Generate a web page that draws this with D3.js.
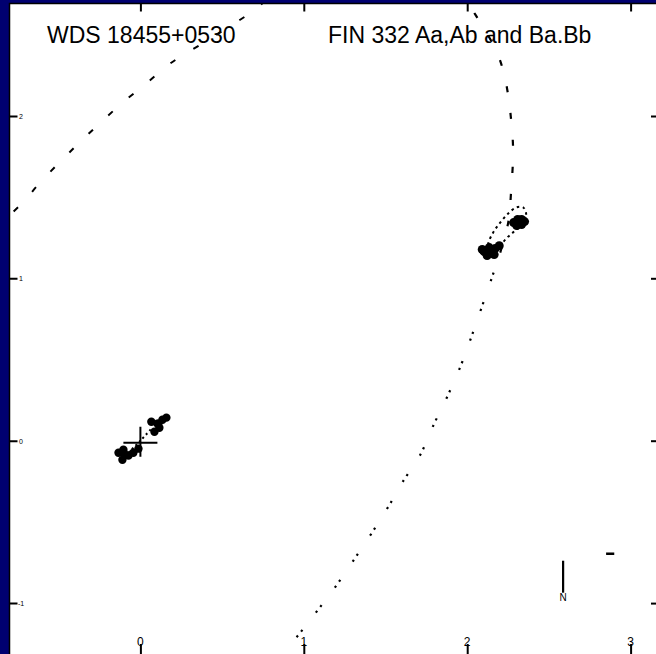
<!DOCTYPE html>
<html><head><meta charset="utf-8">
<script src="https://cdn.jsdelivr.net/npm/d3@7"></script>
<style>html,body{margin:0;padding:0;background:#000070;}svg{display:block;}</style>
</head><body>
<script>
// ---- data (arcsec-like units) ----
const xTicks = [0, 1, 2, 3];
const yTicks = [-1, 0, 1, 2];
const xTickLabels = ["0", "1", "2", "3"];
const yTickLabels = ["-1", "0", "1", "2"];
const titleLeft = "WDS 18455+0530";
const titleRight = "FIN 332 Aa,Ab and Ba.Bb";

// outer orbit (A-B), dotted part
const orbitDotted = [[0.844,-1.368],[0.887,-1.300],[0.997,-1.158],[1.101,-1.023],[1.211,-0.875],[1.315,-0.721],[1.413,-0.573],[1.517,-0.407],[1.602,-0.259],[1.713,-0.086],[1.798,0.105],[1.878,0.271],[1.963,0.468],[2.024,0.635],[2.086,0.813],[2.153,1.010],[2.202,1.158]];
// outer orbit, dashed part (right)
const orbitDashed = [[2.202,1.158],[2.251,1.343],[2.269,1.540],[2.281,1.787],[2.269,1.972],[2.251,2.126],[2.220,2.280],[2.177,2.403],[2.110,2.526],[2.049,2.625],[1.988,2.724]];
// outer orbit, dashed part (upper left)
const orbitUpperLeft = [[0.765,2.711],[0.703,2.656],[0.440,2.483],[0.183,2.323],[0.043,2.206],[-0.122,2.070],[-0.263,1.941],[-0.385,1.824],[-0.502,1.707],[-0.636,1.565],[-0.697,1.491],[-0.783,1.405]];
// inner orbit Ba,Bb (closed)
const orbitB = [[2.141,1.146],[2.128,1.208],[2.159,1.282],[2.202,1.343],[2.251,1.399],[2.300,1.436],[2.343,1.436],[2.361,1.392],[2.336,1.331],[2.294,1.294],[2.245,1.251],[2.190,1.189]];
// inner orbit Aa,Ab (line-like)
const orbitA = [[-0.073,-0.074],[0.000,0.000],[0.073,0.080]];
// measures
const measuresB = [[2.104,1.164],[2.135,1.189],[2.171,1.183],[2.122,1.140],[2.165,1.146],[2.196,1.201],[2.092,1.177],[2.141,1.164],[2.153,1.170],[2.284,1.343],[2.309,1.362],[2.333,1.362],[2.303,1.325],[2.333,1.331],[2.351,1.349],[2.315,1.343]];
const measuresA = [[0.067,0.117],[0.104,0.105],[0.135,0.129],[0.159,0.142],[0.116,0.080],[0.086,0.055],[0.110,0.105],[-0.134,-0.074],[-0.104,-0.055],[-0.110,-0.117],[-0.073,-0.092],[-0.043,-0.074],[-0.012,-0.049],[-0.098,-0.080]];
const primary = [[0, -0.012]];
const compassN = [[2.587,-0.739],[2.587,-0.936]];
const compassE = [[2.85,-0.696],[2.90,-0.696]];
const compassLabel = [[2.587,-0.99,"N"]];

// ---- layout ----
const W = 656, H = 654;
const frameL = 9.5, frameT = 3.5, frameR = 660, frameB = 660;
const x = d3.scaleLinear().domain([0, 3]).range([140.4, 630.6]);
const y = d3.scaleLinear().domain([-1, 2]).range([603.1, 115.9]);

const svg = d3.select("body").append("svg").attr("width", W).attr("height", H);
svg.append("rect").attr("x", frameL).attr("y", frameT)
  .attr("width", frameR - frameL).attr("height", frameB - frameT)
  .attr("fill", "#fff").attr("stroke", "#000").attr("stroke-width", 1.5);
svg.append("clipPath").attr("id", "clip").append("rect")
  .attr("x", frameL).attr("y", frameT).attr("width", frameR - frameL).attr("height", frameB - frameT);
const g = svg.append("g").attr("clip-path", "url(#clip)");

// ticks via axes
const tickStyle = sel => { sel.select(".domain").remove(); sel.selectAll("line").attr("stroke", "#000").attr("stroke-width", 2); sel.selectAll("text").remove(); };
g.append("g").attr("transform", `translate(0,${frameT})`).call(d3.axisBottom(x).tickValues(xTicks).tickSize(8)).call(tickStyle);
g.append("g").attr("transform", `translate(0,${frameB-4})`).call(d3.axisTop(x).tickValues(xTicks).tickSize(12)).call(tickStyle);
g.append("g").attr("transform", `translate(${frameL},0)`).call(d3.axisRight(y).tickValues(yTicks).tickSize(8)).call(tickStyle);
g.append("g").attr("transform", `translate(${frameR-1},0)`).call(d3.axisLeft(y).tickValues(yTicks).tickSize(8)).call(tickStyle);

// tick labels (partially cut in reference)
g.selectAll(".xl").data(xTicks).join("text").attr("x", d => x(d)).attr("y", 646)
  .attr("text-anchor", "middle").attr("font-family", "Liberation Sans, Arial, sans-serif")
  .attr("font-size", 12).attr("fill", "#000").text((d, i) => xTickLabels[i]);
g.selectAll(".yl").data(yTicks).join("text").attr("x", 21).attr("y", d => y(d) + 3)
  .attr("text-anchor", "middle").attr("font-family", "Liberation Sans, Arial, sans-serif")
  .attr("font-size", 7).attr("fill", "#000").text((d, i) => yTickLabels[i]);

const line = d3.line().x(d => x(d[0])).y(d => y(d[1])).curve(d3.curveCatmullRom);
const lineClosed = d3.line().x(d => x(d[0])).y(d => y(d[1])).curve(d3.curveCatmullRomClosed);

g.append("path").attr("d", line(orbitDotted)).attr("fill", "none").attr("stroke", "#000")
  .attr("stroke-width", 2.2).attr("stroke-dasharray", "2.2,5,2.2,22");
g.append("path").attr("d", line(orbitDashed)).attr("fill", "none").attr("stroke", "#000")
  .attr("stroke-width", 2.2).attr("stroke-dasharray", "6,21");
g.append("path").attr("d", line(orbitUpperLeft)).attr("fill", "none").attr("stroke", "#000")
  .attr("stroke-width", 2).attr("stroke-dasharray", "6,21");
g.append("path").attr("d", lineClosed(orbitB)).attr("fill", "none").attr("stroke", "#000")
  .attr("stroke-width", 2).attr("stroke-dasharray", "2.5,3.5");
g.append("path").attr("d", line(orbitA)).attr("fill", "none").attr("stroke", "#000")
  .attr("stroke-width", 2).attr("stroke-dasharray", "2,3");

g.selectAll(".mb").data(measuresB).join("circle").attr("cx", d => x(d[0])).attr("cy", d => y(d[1]))
  .attr("r", 4.5).attr("fill", "#000");
g.selectAll(".ma").data(measuresA).join("circle").attr("cx", d => x(d[0])).attr("cy", d => y(d[1]))
  .attr("r", 4.2).attr("fill", "#000");

// primary cross
g.selectAll(".pc").data(primary).join("path")
  .attr("d", d => `M${x(d[0]) - 17},${y(d[1])}H${x(d[0]) + 17}M${x(d[0])},${y(d[1]) - 16}V${y(d[1]) + 14}`)
  .attr("stroke", "#000").attr("stroke-width", 2).attr("fill", "none");

// compass
g.append("path").attr("d", d3.line().x(d => x(d[0])).y(d => y(d[1]))(compassN)).attr("stroke", "#000").attr("stroke-width", 2.2);
g.append("path").attr("d", d3.line().x(d => x(d[0])).y(d => y(d[1]))(compassE)).attr("stroke", "#000").attr("stroke-width", 2.5);
g.selectAll(".cl").data(compassLabel).join("text").attr("x", d => x(d[0])).attr("y", d => y(d[1]))
  .attr("text-anchor", "middle").attr("font-family", "Liberation Sans, Arial, sans-serif")
  .attr("font-size", 10).attr("fill", "#000").text(d => d[2]);

// titles
g.append("text").attr("x", 47).attr("y", 43).attr("font-family", "Liberation Sans, Arial, sans-serif")
  .attr("font-size", 23).attr("fill", "#000").text(titleLeft);
g.append("text").attr("x", 328).attr("y", 43).attr("font-family", "Liberation Sans, Arial, sans-serif")
  .attr("font-size", 23).attr("fill", "#000").text(titleRight);
</script>
</body></html>
